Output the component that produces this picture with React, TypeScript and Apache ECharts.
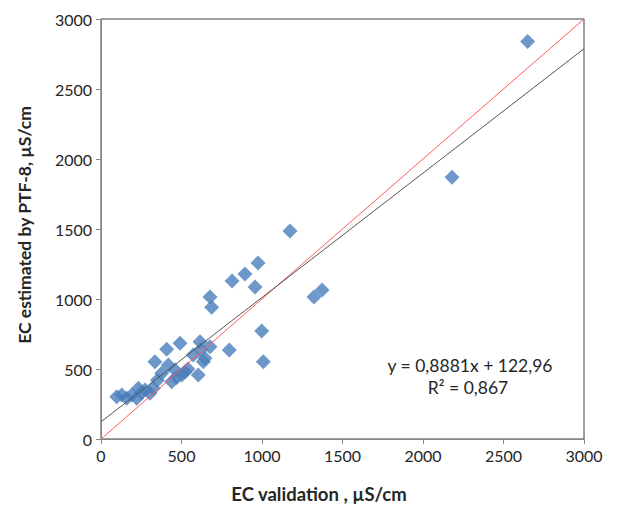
import React, { useEffect, useRef } from "react";
import * as echarts from "echarts";

const ecValidation = [2650, 2180, 1174, 975, 894, 957, 814, 677, 687, 1373, 1323, 998, 1008, 797, 491, 408, 615, 335, 604, 677, 573, 636, 460, 501, 377, 439, 273, 232, 191, 129, 98, 160, 222, 304, 325, 522, 418, 646, 620, 540, 470, 350, 250];
const ecEstimated = [2840, 1870, 1486, 1257, 1179, 1086, 1129, 1014, 941, 1064, 1014, 771, 552, 636, 684, 641, 695, 552, 457, 659, 600, 552, 493, 457, 469, 409, 350, 362, 314, 314, 302, 291, 291, 326, 362, 481, 529, 576, 640, 500, 440, 420, 330];
const xTicks = [0, 500, 1000, 1500, 2000, 2500, 3000];
const trendSlope = 0.8881;
const trendIntercept = 122.96;
const equationText = "y = 0,8881x + 122,96";
const r2Text = "R² = 0,867";
const xTitle = "EC validation , µS/cm";
const yTitle = "EC estimated by PTF-8, µS/cm";

export default function App() {
  const ref = useRef<HTMLDivElement>(null);
  useEffect(() => {
    if (!ref.current) return;
    const chart = echarts.init(ref.current, null, { renderer: "svg" });
    const font = "Lato, 'Liberation Sans', sans-serif";
    const points = ecValidation.map((v, i) => [v, ecEstimated[i]]);
    const xMin = xTicks[0];
    const xMax = xTicks[xTicks.length - 1];
    chart.setOption({
      animation: false,
      backgroundColor: "#ffffff",
      grid: {
        left: 101,
        right: 33,
        top: 19,
        bottom: 67,
        show: true,
        borderColor: "#404040",
        borderWidth: 1,
      },
      xAxis: {
        type: "value",
        min: 0,
        max: 3000,
        interval: 500,
        axisLine: { show: true, lineStyle: { color: "#868686" } },
        axisTick: { show: true, inside: false, length: 5, lineStyle: { color: "#868686" } },
        axisLabel: { fontFamily: font, fontSize: 16, color: "#262626", margin: 8, formatter: (v: number) => String(v) },
        splitLine: { show: false },
      },
      yAxis: {
        type: "value",
        min: 0,
        max: 3000,
        interval: 500,
        name: yTitle,
        nameLocation: "middle",
        nameGap: 68,
        nameTextStyle: { fontFamily: font, fontSize: 17.5, fontWeight: "bold", color: "#262626", padding: [0, 0, 0, 8] },
        axisLine: { show: true, lineStyle: { color: "#868686" } },
        axisTick: { show: true, inside: false, length: 5, lineStyle: { color: "#868686" } },
        axisLabel: { fontFamily: font, fontSize: 16, color: "#262626", margin: 9, formatter: (v: number) => String(v) },
        splitLine: { show: false },
      },
      series: [
        {
          type: "line",
          data: [[xMin, xMin], [xMax, xMax]],
          showSymbol: false,
          symbol: "none",
          lineStyle: { color: "#ff5b5b", width: 1 },
          z: 3,
        },
        {
          type: "line",
          data: [[xMin, trendSlope * xMin + trendIntercept], [xMax, trendSlope * xMax + trendIntercept]],
          showSymbol: false,
          symbol: "none",
          lineStyle: { color: "#555555", width: 1 },
          z: 3,
        },
        {
          type: "scatter",
          data: points,
          symbol: "diamond",
          symbolSize: 15,
          itemStyle: { color: "#4a7ebb" },
          z: 2,
        },
      ],
      graphic: [
        {
          type: "text",
          x: 319,
          y: 494,
          style: { text: xTitle, fontFamily: font, fontSize: 18.5, fontWeight: "bold", fill: "#262626", align: "center", verticalAlign: "middle" },
        },
        {
          type: "text",
          x: 470,
          y: 365,
          style: { text: equationText, fontFamily: font, fontSize: 17.5, fill: "#262626", align: "center", verticalAlign: "middle" },
        },
        {
          type: "text",
          x: 468,
          y: 387,
          style: { text: r2Text, fontFamily: font, fontSize: 17.5, fill: "#262626", align: "center", verticalAlign: "middle" },
        },
      ],
    });
    return () => chart.dispose();
  }, []);
  return <div ref={ref} style={{ position: "absolute", left: 0, top: 0, width: 617, height: 506 }} />;
}
